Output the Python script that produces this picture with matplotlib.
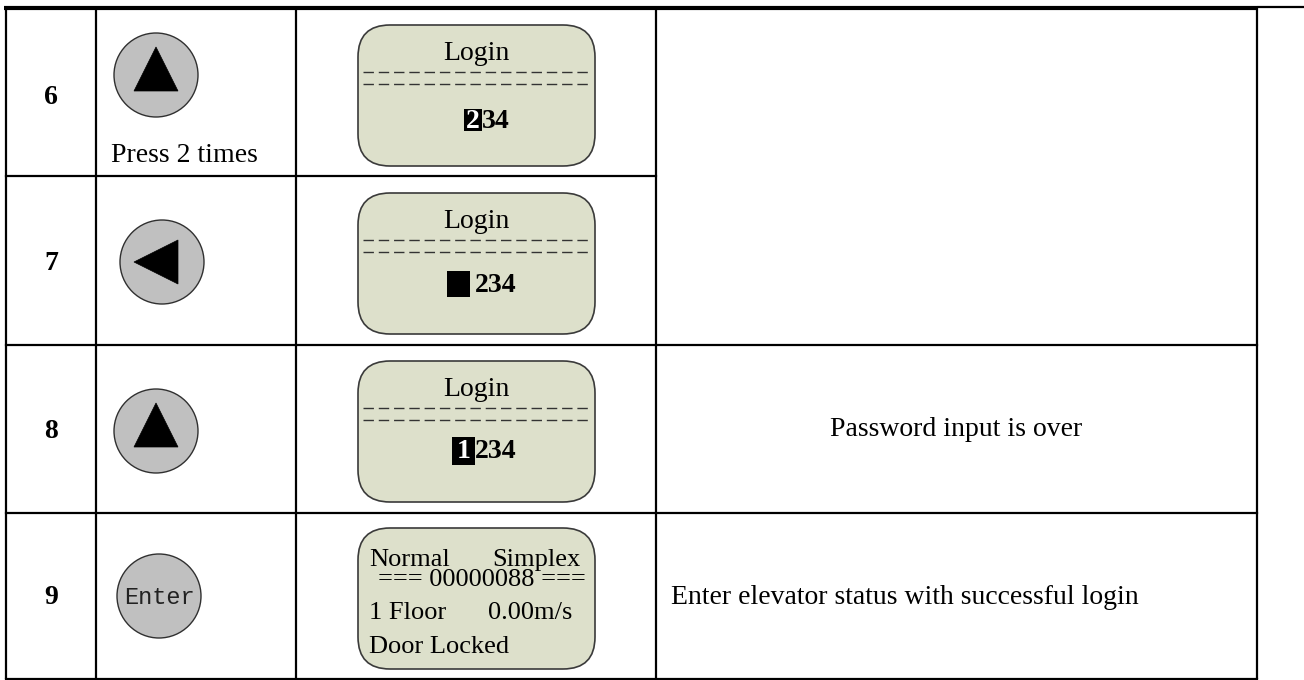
import matplotlib
matplotlib.use("Agg")
import matplotlib.pyplot as plt
from matplotlib.patches import Ellipse, FancyBboxPatch, Polygon, Rectangle

# Table content
steps = ["6", "7", "8", "9"]
keys = ["up", "left", "up", "Enter"]
key_notes = ["Press 2 times", "", "", ""]
login_title = "Login"
cursor_digits = ["2", "", "1"]          # highlighted digit on the login screen
login_rest = ["34", "234", "234"]       # remaining password digits
status_left = ["Normal", "", "1 Floor", "Door Locked"]
status_right = ["Simplex", "", "0.00m/s", ""]
status_mid = "=== 00000088 ==="
descriptions = ["Password input is over", "Enter elevator status with successful login"]

# Layout in pixels (figure is 1304 x 680)
W, H = 1304, 680
col_x = [6, 96, 296, 656, 1257]
row_y = [9, 176, 345, 513, 679]
btn_cx = [156, 162, 156, 159]
btn_cy = [75, 262, 431, 596]
lcd_x0, lcd_x1 = 358, 595
lcd_top = [25, 193, 361, 528]
lcd_h = 141
cursor_box = [(464, 109, 18, 22), (447, 271, 23, 26), (452, 437, 23, 28)]
rest_gap = [0, 5, 0]

serif = "Liberation Serif"
line_c = "black"
lcd_fill = "#dde0cb"
lcd_edge = "#3a3a3a"
btn_fill = "#c0c0c0"

fig = plt.figure(figsize=(W / 100, H / 100), dpi=100)
ax = fig.add_axes([0, 0, 1, 1])
ax.set_xlim(0, W)
ax.set_ylim(H, 0)
ax.axis("off")

# grid lines
lw = 1.6
ax.plot([4, col_x[-1]], [8, 8], color=line_c, lw=3.0, solid_capstyle="butt")
ax.plot([col_x[-1], W], [7, 7], color=line_c, lw=1.6, solid_capstyle="butt")
for x in col_x:
    ax.plot([x, x], [8, row_y[-1]], color=line_c, lw=lw, solid_capstyle="butt")
ax.plot([col_x[0], col_x[3]], [row_y[1], row_y[1]], color=line_c, lw=lw)
for y in row_y[2:]:
    ax.plot([col_x[0], col_x[-1]], [y, y], color=line_c, lw=lw)

for i, step in enumerate(steps):
    ax.text((col_x[0] + col_x[1]) / 2, btn_cy[i] + 22 if i == 0 else btn_cy[i] + 1, step,
            ha="center", va="center", fontsize=20, fontweight="bold", family=serif)

    # key button
    cx, cy = btn_cx[i], btn_cy[i]
    ax.add_patch(Ellipse((cx, cy), 84, 84, facecolor=btn_fill, edgecolor="#303030", lw=1.0))
    if keys[i] == "up":
        ax.add_patch(Polygon([(cx, cy - 28), (cx - 22, cy + 16), (cx + 22, cy + 16)],
                             closed=True, facecolor="black", edgecolor="black", lw=0.5))
    elif keys[i] == "left":
        ax.add_patch(Polygon([(cx - 28, cy), (cx + 16, cy - 22), (cx + 16, cy + 22)],
                             closed=True, facecolor="black", edgecolor="black", lw=0.5))
    else:
        ax.text(cx, cy + 1, keys[i], ha="center", va="center", fontsize=17,
                family="Liberation Mono", color="#222222")
    if key_notes[i]:
        ax.text(184, 156, key_notes[i], ha="center", va="center", fontsize=20, family=serif)

    # LCD screen
    top = lcd_top[i]
    ax.add_patch(FancyBboxPatch((lcd_x0, top), lcd_x1 - lcd_x0, lcd_h,
                                boxstyle="round,pad=0,rounding_size=32",
                                facecolor=lcd_fill, edgecolor=lcd_edge, lw=1.2))
    if i < 3:
        ax.text(476, top + 28, login_title, ha="center", va="center", fontsize=20, family=serif)
        for dy in (47, 59):
            ax.plot([363, 589], [top + dy, top + dy], color="#333333", lw=1.0,
                    dashes=(7.5, 3.5))
        bx, by, bw, bh = cursor_box[i]
        ax.add_patch(Rectangle((bx, by), bw, bh, facecolor="black", edgecolor="none"))
        ty = by + bh / 2 + 1
        if cursor_digits[i]:
            ax.text(bx + bw / 2, ty, cursor_digits[i], ha="center", va="center",
                    fontsize=20, fontweight="bold", family=serif, color="white")
        ax.text(bx + bw + rest_gap[i], ty, login_rest[i], ha="left", va="center",
                fontsize=20, fontweight="bold", family=serif)
    else:
        ys = [560, 580, 613, 647]
        for k, y in enumerate(ys):
            if k == 1:
                ax.text(482, y, status_mid, ha="center", va="center", fontsize=19, family=serif)
                continue
            if status_left[k]:
                ax.text(369, y, status_left[k], ha="left", va="center", fontsize=19, family=serif)
            if status_right[k]:
                ax.text(580 if k == 0 else 572, y, status_right[k], ha="right", va="center",
                        fontsize=19, family=serif)

# description cells
ax.text((col_x[3] + col_x[4]) / 2, 430, descriptions[0], ha="center", va="center",
        fontsize=20, family=serif)
ax.text(671, 598, descriptions[1], ha="left", va="center", fontsize=20, family=serif)

fig.savefig("out.png", dpi=100)
